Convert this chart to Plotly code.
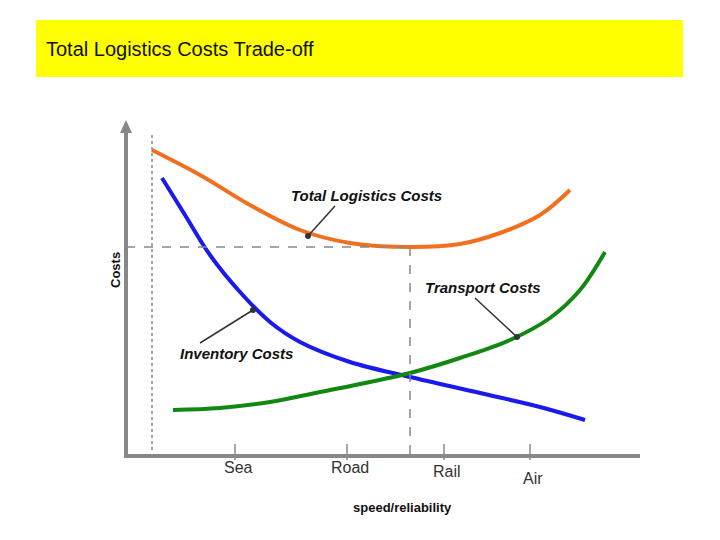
import plotly.graph_objects as go

# curve values (in chart units: x = speed/reliability position, y = cost position from top)
total_x = [152, 200, 250, 300, 350, 410, 460, 500, 540, 570]
total_y = [150, 175, 205, 230, 243, 247, 244, 233, 215, 190]
inv_x = [162, 185, 210, 240, 270, 300, 350, 410, 480, 540, 585]
inv_y = [178, 215, 255, 292, 322, 342, 362, 377, 393, 407, 420]
trans_x = [173, 220, 270, 320, 370, 410, 460, 510, 550, 580, 605]
trans_y = [410, 408, 402, 392, 382, 373, 358, 340, 318, 290, 252]
mode_labels = ["Sea", "Road", "Rail", "Air"]
mode_pos = [235, 347, 444, 530]
mode_label_y = [467, 467, 471, 478]

fig = go.Figure()
fig.add_trace(go.Scatter(x=total_x, y=total_y, mode="lines", line=dict(color="#f07020", width=4, shape="spline")))
fig.add_trace(go.Scatter(x=inv_x, y=inv_y, mode="lines", line=dict(color="#1a1aee", width=4, shape="spline")))
fig.add_trace(go.Scatter(x=trans_x, y=trans_y, mode="lines", line=dict(color="#118811", width=4, shape="spline")))

shapes = [
    dict(type="rect", x0=36, x1=683, y0=20, y1=77, fillcolor="#ffff00", line=dict(width=0), layer="below"),
    dict(type="line", x0=126, x1=126, y0=125, y1=456, line=dict(color="#888", width=4)),
    dict(type="line", x0=124, x1=640, y0=456, y1=456, line=dict(color="#888", width=4)),
    dict(type="path", path="M 120 133 L 126 120 L 132 133 Z", fillcolor="#888", line=dict(width=0)),
    dict(type="line", x0=152, x1=152, y0=135, y1=452, line=dict(color="#888", width=1.5, dash="dot")),
    dict(type="line", x0=126, x1=410, y0=247, y1=247, line=dict(color="#888", width=1.5, dash="dash")),
    dict(type="line", x0=410, x1=410, y0=247, y1=456, line=dict(color="#888", width=1.5, dash="dash")),
]
for p in mode_pos:
    shapes.append(dict(type="line", x0=p, x1=p, y0=444, y1=460, line=dict(color="#888", width=1.5)))
for (x0, y0, x1, y1) in [(335, 206, 308, 236), (475, 298, 517, 337), (200, 343, 253, 310)]:
    shapes.append(dict(type="line", x0=x0, y0=y0, x1=x1, y1=y1, line=dict(color="#333", width=1.5)))
    shapes.append(dict(type="circle", x0=x1-3, x1=x1+3, y0=y1-3, y1=y1+3, fillcolor="#333", line=dict(width=0)))

ann = [
    dict(x=44, y=49, text="Total Logistics Costs Trade-off", xanchor="left", font=dict(size=20, color="#111")),
    dict(x=366, y=195, text="<b><i>Total Logistics Costs</i></b>", font=dict(size=15)),
    dict(x=483, y=287, text="<b><i>Transport Costs</i></b>", font=dict(size=15)),
    dict(x=236, y=353, text="<b><i>Inventory Costs</i></b>", font=dict(size=15)),
    dict(x=402, y=507, text="<b>speed/reliability</b>", font=dict(size=13)),
    dict(x=115, y=270, text="<b>Costs</b>", textangle=-90, font=dict(size=13)),
]
for lab, p, ly in zip(mode_labels, mode_pos, mode_label_y):
    ann.append(dict(x=p + 3, y=ly, text=lab, font=dict(size=16, color="#333")))
for a in ann:
    a.update(showarrow=False, xref="x", yref="y")
    a["font"].setdefault("color", "#111")
    a["font"]["family"] = "Liberation Sans, Arial"

fig.update_layout(
    width=720, height=540, margin=dict(l=0, r=0, t=0, b=0),
    paper_bgcolor="white", plot_bgcolor="white", showlegend=False,
    xaxis=dict(range=[8, 728], visible=False),
    yaxis=dict(range=[548, 8], visible=False),
    shapes=shapes, annotations=ann,
)
fig.write_html("out.html")
